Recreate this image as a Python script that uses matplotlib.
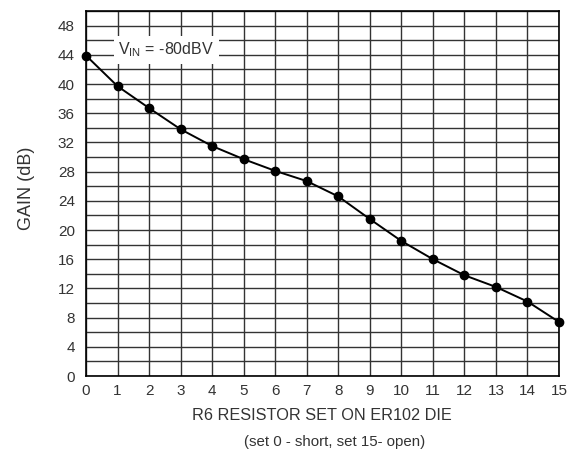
import matplotlib
matplotlib.use("Agg")
import matplotlib.pyplot as plt
import numpy as np

plt.rcParams['font.family'] = ['Liberation Sans', 'DejaVu Sans']

settings = list(range(16))
gain_db = [43.9, 39.7, 36.7, 33.8, 31.5, 29.7, 28.1, 26.7, 24.6, 21.5, 18.5, 16.0, 13.8, 12.2, 10.2, 7.4]
y_ticks = [0, 4, 8, 12, 16, 20, 24, 28, 32, 36, 40, 44, 48]
x_ticks = list(range(16))

txt = '#333333'
fig = plt.figure(figsize=(5.75, 4.53), dpi=100)
ax = fig.add_axes([86/575, 77/453, (559-86)/575, (376-11)/453])
ax.set_xlim(0, 15)
ax.set_ylim(0, 50)

for xv in np.arange(0, 16, 1):
    ax.axvline(xv, color='#333333', lw=1.0, zorder=1)
for yv in np.arange(0, 51, 2):
    ax.axhline(yv, color='#333333', lw=1.0, zorder=1)

ax.plot(settings, gain_db, color='black', lw=1.4, marker='o', markersize=6, zorder=4, clip_on=False)

ax.set_xticks(x_ticks)
ax.set_yticks(y_ticks)
ax.tick_params(axis='both', length=0, labelsize=11, labelcolor=txt)
ax.tick_params(axis='x', pad=6)
ax.tick_params(axis='y', pad=8)
for s in ax.spines.values():
    s.set_color('black')
    s.set_linewidth(1.2)

ax.text(2.55, 44.7, r'$\mathregular{V_{IN}}$ = -80dBV', ha='center', va='center', fontsize=11.5, color=txt,
        bbox=dict(facecolor='white', edgecolor='none', pad=3.5), zorder=3)

fig.text(27/575, 1 - 188/453, 'GAIN (dB)', rotation=90, ha='center', va='center', fontsize=13, color=txt)
fig.text(322/575, 1 - 415/453, 'R6 RESISTOR SET ON ER102 DIE', ha='center', va='center', fontsize=11.7, color=txt)
fig.text(335/575, 1 - 442/453, '(set 0 - short, set 15- open)', ha='center', va='center', fontsize=10.8, color=txt)

fig.savefig('out.png', dpi=100)
